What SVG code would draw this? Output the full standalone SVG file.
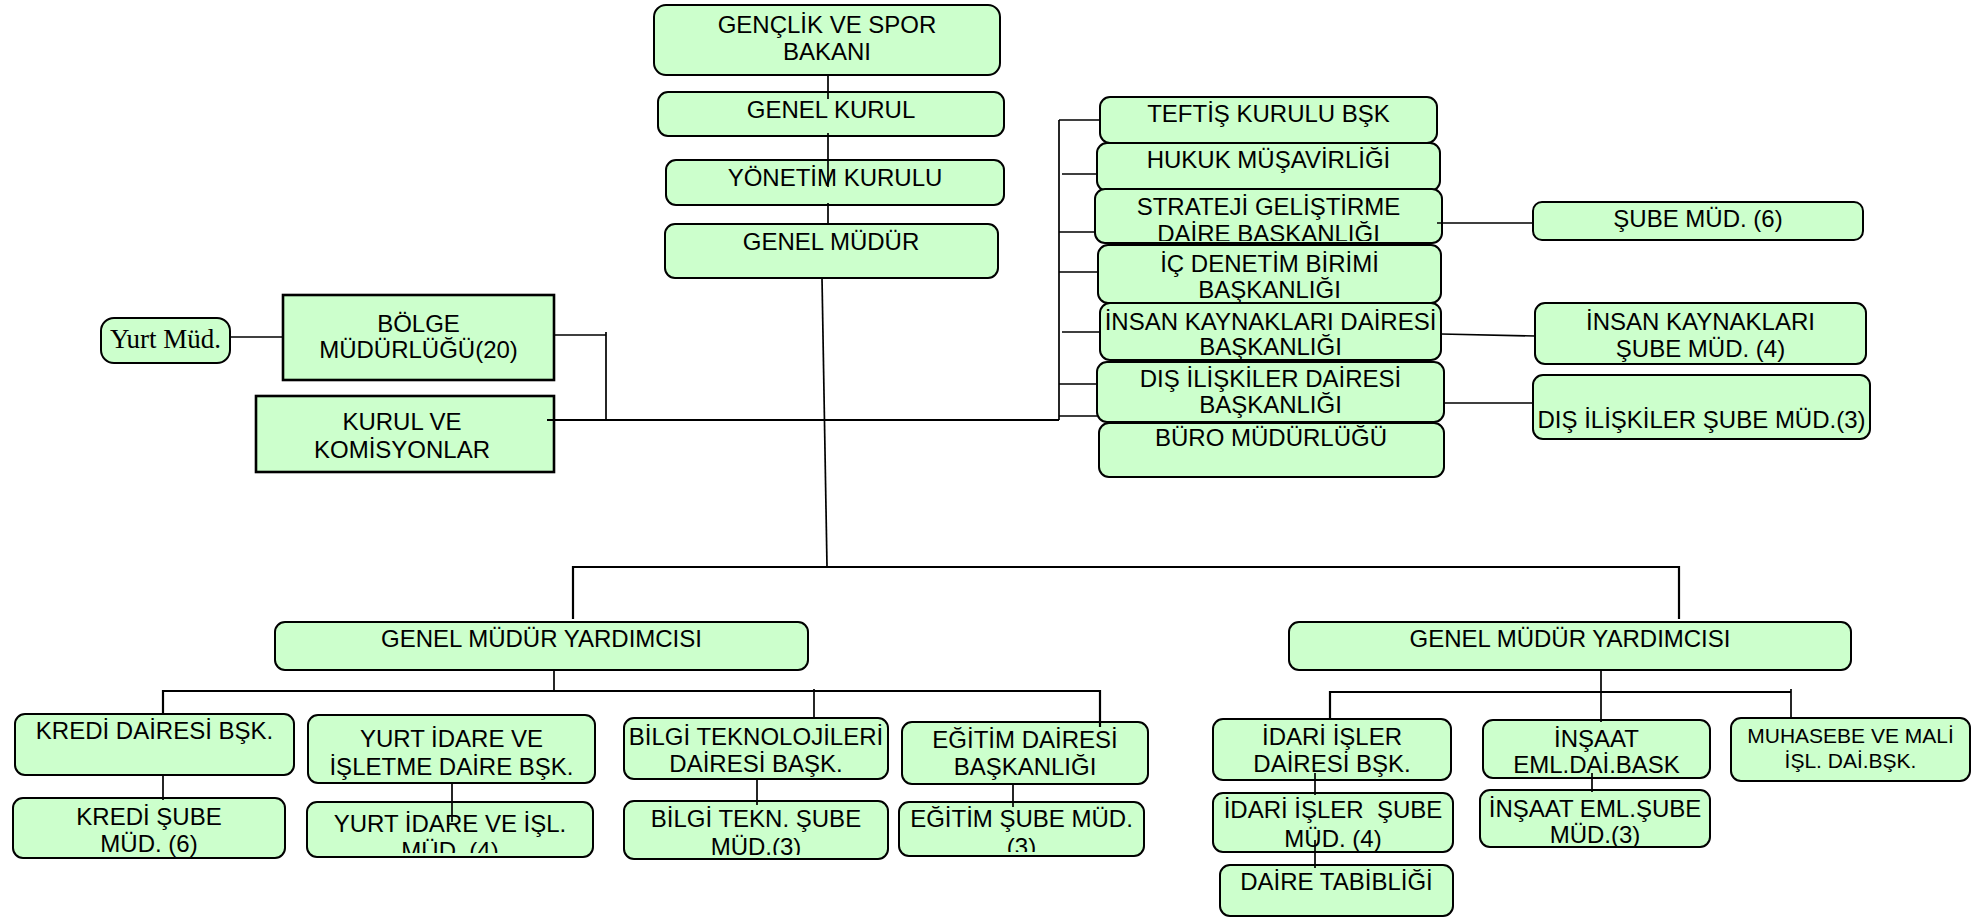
<svg xmlns="http://www.w3.org/2000/svg" width="1980" height="917" viewBox="0 0 1980 917">
<style>
.b{fill:#ccffcc;stroke:#000;stroke-width:2}
.s{fill:#ccffcc;stroke:#000;stroke-width:2.6}
.t{font-family:"Liberation Sans",Arial,sans-serif;font-size:24px;text-anchor:middle;fill:#000}
.sm{font-size:21px}
.tm{font-family:"Liberation Serif","Times New Roman",serif;font-size:27px;text-anchor:middle;fill:#000}
.c{stroke:#000;stroke-width:1.7;fill:none}
.m{stroke:#000;stroke-width:2.2;fill:none}
</style>
<defs>
<clipPath id="cpStr"><rect x="1096" y="190" width="345" height="51"/></clipPath>
<clipPath id="cpYurt"><rect x="308" y="803" width="284" height="50"/></clipPath>
<clipPath id="cpBilgi"><rect x="625" y="802" width="262" height="53"/></clipPath>
<clipPath id="cpEgit"><rect x="900" y="803" width="243" height="49"/></clipPath>
</defs>
<rect width="1980" height="917" fill="#fff"/>

<g id="n-bakan"><rect class="b" x="654" y="5" width="346" height="70" rx="12"/><text class="t" x="827" y="33">GENÇLİK VE SPOR</text><text class="t" x="827" y="60">BAKANI</text></g>
<g id="n-genelkurul"><rect class="b" x="658" y="92" width="346" height="44" rx="10"/><text class="t" x="831" y="118">GENEL KURUL</text></g>
<g id="n-yonetim"><rect class="b" x="666" y="160" width="338" height="45" rx="10"/><text class="t" x="835" y="186">YÖNETİM KURULU</text></g>
<g id="n-genelmudur"><rect class="b" x="665" y="224" width="333" height="54" rx="10"/><text class="t" x="831" y="250">GENEL MÜDÜR</text></g>

<g id="n-yurtmud"><rect class="b" x="101" y="318" width="129" height="45" rx="13"/><text class="tm" x="165.5" y="348">Yurt Müd.</text></g>
<g id="n-bolge"><rect class="s" x="283" y="295" width="271" height="85"/><text class="t" x="418.5" y="332">BÖLGE</text><text class="t" x="418.5" y="358">MÜDÜRLÜĞÜ(20)</text></g>
<g id="n-kurul"><rect class="s" x="256" y="396" width="298" height="76"/><text class="t" x="402" y="430">KURUL VE</text><text class="t" x="402" y="458">KOMİSYONLAR</text></g>

<g id="n-teftis"><rect class="b" x="1100" y="97" width="337" height="46" rx="10"/><text class="t" x="1268.5" y="122">TEFTİŞ KURULU BŞK</text></g>
<g id="n-hukuk"><rect class="b" x="1097" y="143" width="343" height="48" rx="10"/><text class="t" x="1268.5" y="168">HUKUK MÜŞAVİRLİĞİ</text></g>
<g id="n-strateji"><rect class="b" x="1095" y="189" width="347" height="54" rx="10"/><g clip-path="url(#cpStr)"><text class="t" x="1268.5" y="215">STRATEJİ GELİŞTİRME</text><text class="t" x="1268.5" y="242">DAİRE BAŞKANLIĞI</text></g></g>
<g id="n-icdenetim"><rect class="b" x="1098" y="245" width="343" height="58" rx="10"/><text class="t" x="1269.5" y="272">İÇ DENETİM BİRİMİ</text><text class="t" x="1269.5" y="298">BAŞKANLIĞI</text></g>
<g id="n-insan"><rect class="b" x="1100" y="303" width="341" height="57" rx="10"/><text class="t" x="1270.5" y="330">İNSAN KAYNAKLARI DAİRESİ</text><text class="t" x="1270.5" y="355">BAŞKANLIĞI</text></g>
<g id="n-dis"><rect class="b" x="1097" y="362" width="347" height="60" rx="10"/><text class="t" x="1270.5" y="387">DIŞ İLİŞKİLER DAİRESİ</text><text class="t" x="1270.5" y="413">BAŞKANLIĞI</text></g>
<g id="n-buro"><rect class="b" x="1099" y="423" width="345" height="54" rx="10"/><text class="t" x="1271" y="446">BÜRO MÜDÜRLÜĞÜ</text></g>

<g id="n-sube6"><rect class="b" x="1533" y="202" width="330" height="38" rx="9"/><text class="t" x="1698" y="227">ŞUBE MÜD. (6)</text></g>
<g id="n-insansube"><rect class="b" x="1535" y="303" width="331" height="61" rx="10"/><text class="t" x="1700.5" y="330">İNSAN KAYNAKLARI</text><text class="t" x="1700.5" y="357">ŞUBE MÜD. (4)</text></g>
<g id="n-dissube"><rect class="b" x="1533" y="375" width="337" height="64" rx="10"/><text class="t" x="1701.5" y="428">DIŞ İLİŞKİLER ŞUBE MÜD.(3)</text></g>

<g id="n-gmy1"><rect class="b" x="275" y="622" width="533" height="48" rx="10"/><text class="t" x="541.5" y="647">GENEL MÜDÜR YARDIMCISI</text></g>
<g id="n-gmy2"><rect class="b" x="1289" y="622" width="562" height="48" rx="10"/><text class="t" x="1570" y="647">GENEL MÜDÜR YARDIMCISI</text></g>

<g id="n-kredi"><rect class="b" x="15" y="714" width="279" height="61" rx="10"/><text class="t" x="154.5" y="739">KREDİ DAİRESİ BŞK.</text></g>
<g id="n-kredisube"><rect class="b" x="13" y="798" width="272" height="60" rx="10"/><text class="t" x="149" y="825">KREDİ ŞUBE</text><text class="t" x="149" y="852">MÜD. (6)</text></g>
<g id="n-yurtidare"><rect class="b" x="308" y="715" width="287" height="68" rx="10"/><text class="t" x="451.5" y="747">YURT İDARE VE</text><text class="t" x="451.5" y="775">İŞLETME DAİRE BŞK.</text></g>
<g id="n-yurtisl"><rect class="b" x="307" y="802" width="286" height="55" rx="10"/><g clip-path="url(#cpYurt)"><text class="t" x="450" y="832">YURT İDARE VE İŞL.</text><text class="t" x="450" y="859">MÜD. (4)</text></g></g>
<g id="n-bilgi"><rect class="b" x="624" y="718" width="264" height="61" rx="10"/><text class="t" x="756" y="745">BİLGİ TEKNOLOJİLERİ</text><text class="t" x="756" y="772">DAİRESİ BAŞK.</text></g>
<g id="n-bilgisube"><rect class="b" x="624" y="801" width="264" height="58" rx="10"/><g clip-path="url(#cpBilgi)"><text class="t" x="756" y="827">BİLGİ TEKN. ŞUBE</text><text class="t" x="756" y="855">MÜD.(3)</text></g></g>
<g id="n-egitim"><rect class="b" x="902" y="722" width="246" height="62" rx="10"/><text class="t" x="1025" y="748">EĞİTİM DAİRESİ</text><text class="t" x="1025" y="775">BAŞKANLIĞI</text></g>
<g id="n-egitimsube"><rect class="b" x="899" y="802" width="245" height="54" rx="10"/><g clip-path="url(#cpEgit)"><text class="t" x="1021.5" y="827">EĞİTİM ŞUBE MÜD.</text><text class="t" x="1021.5" y="855">(3)</text></g></g>

<g id="n-idari"><rect class="b" x="1213" y="719" width="238" height="61" rx="10"/><text class="t" x="1332" y="745">İDARİ İŞLER</text><text class="t" x="1332" y="772">DAİRESİ BŞK.</text></g>
<g id="n-idarisube"><rect class="b" x="1213" y="793" width="240" height="59" rx="10"/><text class="t" x="1333" y="818" xml:space="preserve">İDARİ İŞLER  ŞUBE</text><text class="t" x="1333" y="847">MÜD. (4)</text></g>
<g id="n-tabiblik"><rect class="b" x="1220" y="865" width="233" height="51" rx="10"/><text class="t" x="1336.5" y="890">DAİRE TABİBLİĞİ</text></g>
<g id="n-insaat"><rect class="b" x="1483" y="720" width="227" height="58" rx="10"/><text class="t" x="1596.5" y="747">İNŞAAT</text><text class="t" x="1596.5" y="773">EML.DAİ.BASK</text></g>
<g id="n-insaatsube"><rect class="b" x="1480" y="790" width="230" height="57" rx="10"/><text class="t" x="1595" y="817">İNŞAAT EML.ŞUBE</text><text class="t" x="1595" y="843">MÜD.(3)</text></g>
<g id="n-muhasebe"><rect class="b" x="1731" y="718" width="239" height="63" rx="10"/><text class="t sm" x="1850.5" y="743">MUHASEBE VE MALİ</text><text class="t sm" x="1850.5" y="768">İŞL. DAİ.BŞK.</text></g>

<g id="connectors">
<path class="c" d="M828 75V99M828 133V187M828 203V224"/>
<path class="c" d="M822 278L827 566"/>
<path class="m" d="M573 619V567H1679V619"/>
<path class="c" d="M554 670V691"/>
<path class="m" d="M163 714V691H1100V727"/>
<path class="c" d="M814 689V718"/>
<path class="c" d="M163 775V800M452 783V822M757 779V805M1013 784V807"/>
<path class="c" d="M1601 670V722"/>
<path class="m" d="M1330 718V692H1791"/>
<path class="c" d="M1791 689V718"/>
<path class="c" d="M1315 773V795M1315 840V868M1592 773V792"/>
<path class="c" d="M230 337H283"/>
<path class="c" d="M554 335H606M606 332V420"/>
<path class="m" d="M547 420H1059"/>
<path class="c" d="M1059 120V420"/>
<path class="c" d="M1059 120H1100M1062 174H1097M1059 232H1095M1059 272H1098M1062 332H1100M1059 384H1098M1059 416H1097"/>
<path class="c" d="M1437 223H1533M1441 334L1535 336M1444 403H1533"/>
</g>
</svg>
